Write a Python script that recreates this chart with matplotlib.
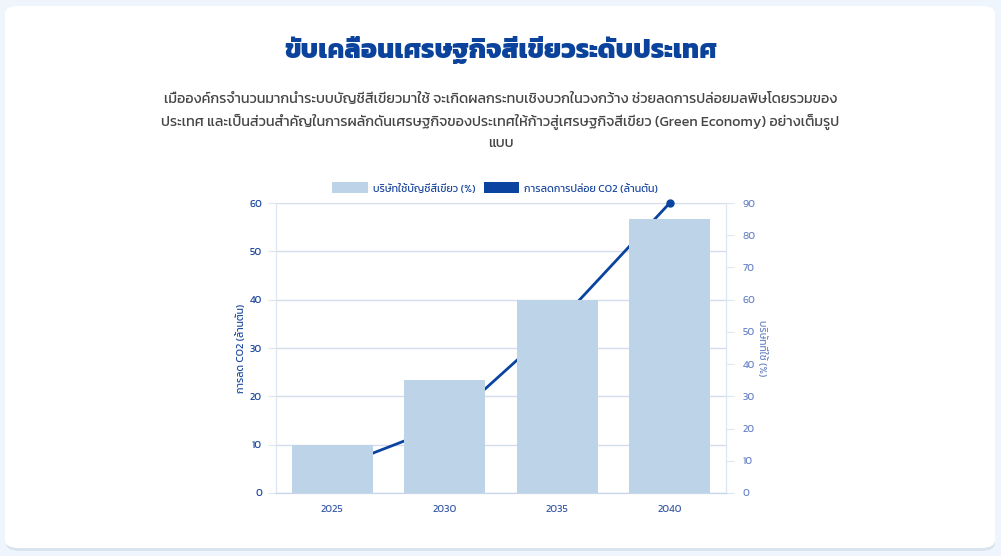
import matplotlib
matplotlib.use("Agg")
import matplotlib.pyplot as plt
from matplotlib.patches import FancyBboxPatch, Patch

plt.rcParams["font.family"] = ["Kanit", "DejaVu Sans"]

years = ["2025", "2030", "2035", "2040"]
green_pct = [15, 35, 60, 85]
co2_cut = [5, 14, 35, 60]
left_ticks = [0, 10, 20, 30, 40, 50, 60]
right_ticks = [0, 10, 20, 30, 40, 50, 60, 70, 80, 90]

title = "ขับเคลื่อนเศรษฐกิจสีเขียวระดับประเทศ"
sub_lines = [
    "เมื่อองค์กรจำนวนมากนำระบบบัญชีสีเขียวมาใช้ จะเกิดผลกระทบเชิงบวกในวงกว้าง ช่วยลดการปล่อยมลพิษโดยรวมของ",
    "ประเทศ และเป็นส่วนสำคัญในการผลักดันเศรษฐกิจของประเทศให้ก้าวสู่เศรษฐกิจสีเขียว (Green Economy) อย่างเต็มรูป",
    "แบบ",
]
bar_label = "บริษัทใช้บัญชีสีเขียว (%)"
line_label = "การลดการปล่อย CO2 (ล้านตัน)"

fig = plt.figure(figsize=(10.01, 5.56), dpi=100)
fig.patch.set_facecolor("#eef5fd")

# card + soft shadow
W, H = 1001, 556
shadow = FancyBboxPatch((6 / W, 5 / H), 989 / W, 543 / H,
                        boxstyle="round,pad=0,rounding_size=0.014",
                        transform=fig.transFigure, fc="#d9e3ee", ec="none", zorder=-2)
card = FancyBboxPatch((5 / W, 8 / H), 990 / W, 542 / H,
                      boxstyle="round,pad=0,rounding_size=0.014",
                      transform=fig.transFigure, fc="white", ec="none", zorder=-1)
fig.patches.extend([shadow, card])

fig.text(0.5, 1 - 50 / H, title, ha="center", va="center", fontsize=19.3,
         fontweight=800, color="#0b439c")
for i, s in enumerate(sub_lines):
    fig.text(0.5, 1 - (100 + 22 * i) / H, s, ha="center", va="center",
             fontsize=10.35, color="#454545")

ax = fig.add_axes([276 / W, 1 - 493 / H, 450 / W, 290 / H])
ax2 = ax.twinx()
ax.set_facecolor("none")

x = range(len(years))
ax.plot(x, co2_cut, color="#0a43a0", lw=2, marker="o", ms=5, zorder=2, clip_on=False)
ax2.bar(x, green_pct, width=0.72, color="#bdd3e7", zorder=2)

ax.set_ylim(0, 60)
ax2.set_ylim(0, 90)
ax.set_xlim(-0.5, 3.5)
ax.set_yticks(left_ticks)
ax2.set_yticks(right_ticks)
ax.set_xticks(list(x))
ax.set_xticklabels(years)
ax.grid(axis="y", color="#d3deed", lw=1)
ax.set_axisbelow(True)

for a in (ax, ax2):
    for sp in a.spines.values():
        sp.set_color("#dde6f1")
    a.spines["top"].set_visible(False)
    a.spines["bottom"].set_color("#c9d7ea")
ax.tick_params(axis="y", colors="#dde6f1", labelcolor="#1e4aa0", labelsize=7.5, length=6, pad=4)
ax2.tick_params(axis="y", colors="#dde6f1", labelcolor="#7088c8", labelsize=7.5, length=6, pad=6)
ax.tick_params(axis="x", length=0, labelcolor="#4060a8", labelsize=7.5, pad=9)

ax.set_ylabel("การลด CO2 (ล้านตัน)", color="#1e4aa0", fontsize=7.5, labelpad=2)
ax2.set_ylabel("บริษัทที่ใช้ (%)", color="#7088c8", fontsize=7.5, labelpad=1,
               rotation=270, va="bottom")

handles = [Patch(fc="#bdd3e7", ec="none", label=bar_label),
           Patch(fc="#0a43a0", ec="none", label=line_label)]
fig.legend(handles=handles, loc="center", bbox_to_anchor=(495 / W, 1 - 188 / H),
           ncol=2, frameon=False, fontsize=7.7, handlelength=3.3, handleheight=1.2,
           handletextpad=0.45, columnspacing=0.8, labelcolor="#1e4aa0")

fig.savefig("out.png", dpi=100, facecolor=fig.get_facecolor())
